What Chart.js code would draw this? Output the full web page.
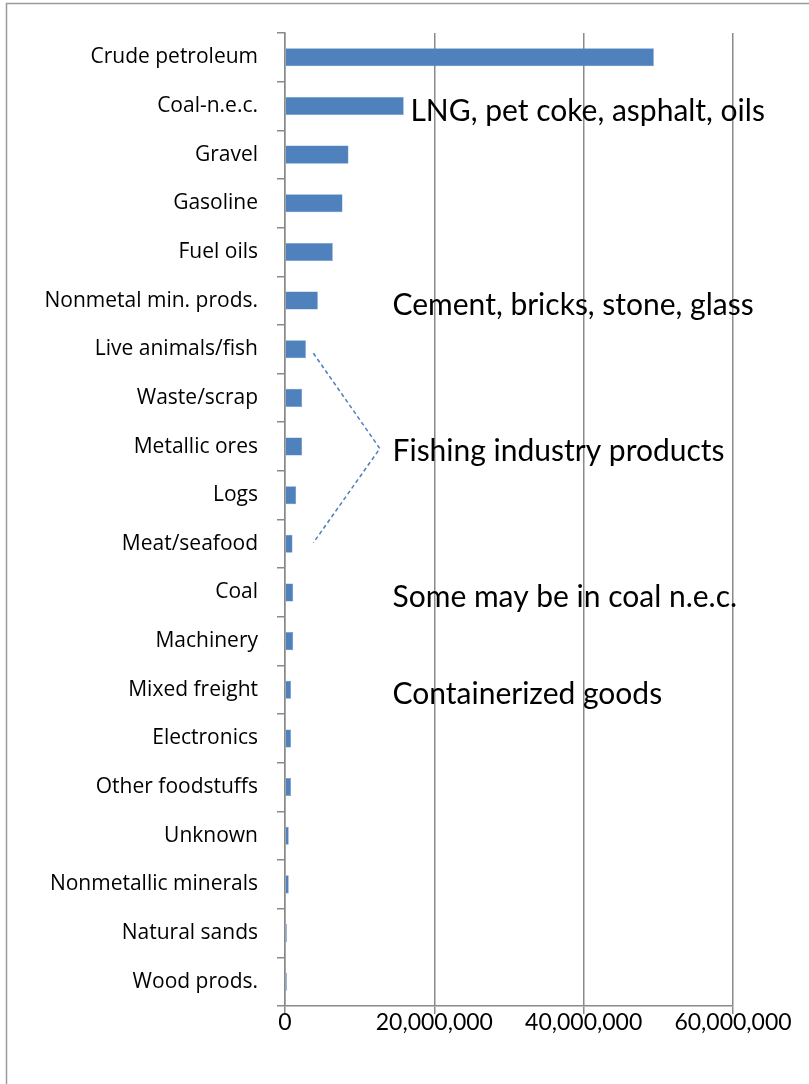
<!DOCTYPE html>
<html>
<head>
<meta charset="utf-8">
<script src="https://cdn.jsdelivr.net/npm/chart.js@4"></script>
<style>
  body { margin: 0; background: #fff; }
  #wrap { width: 809px; height: 1084px; }
</style>
</head>
<body>
<div id="wrap"><canvas id="freightChart" width="809" height="1084"></canvas></div>
<script>
// categories, top to bottom
const categories = [
    'Crude petroleum', 'Coal-n.e.c.', 'Gravel', 'Gasoline', 'Fuel oils',
    'Nonmetal min. prods.', 'Live animals/fish', 'Waste/scrap', 'Metallic ores', 'Logs',
    'Meat/seafood', 'Coal', 'Machinery', 'Mixed freight', 'Electronics',
    'Other foodstuffs', 'Unknown', 'Nonmetallic minerals', 'Natural sands', 'Wood prods.'
];

// tonnage per commodity
const tons = [
    49400000, 15900000, 8500000, 7700000, 6400000,
    4400000, 2800000, 2300000, 2300000, 1500000,
    1000000, 1100000, 1100000, 800000, 800000,
    800000, 500000, 500000, 250000, 250000
];

const xTicks = [0, 20000000, 40000000, 60000000];

// notes written next to the bars: text, row it sits on, value where it starts
const noteTexts = ['LNG, pet coke, asphalt, oils', 'Cement, bricks, stone, glass', 'Fishing industry products', 'Some may be in coal n.e.c.', 'Containerized goods'];
const noteRows = ['Coal-n.e.c.', 'Nonmetal min. prods.', 'Metallic ores', 'Coal', 'Mixed freight'];
const noteValues = [16800000, 14400000, 14400000, 14400000, 14400000];

// bracket for the fishing note: live animals -> apex -> meat/seafood
const bracketRows = ['Live animals/fish', 'Metallic ores', 'Meat/seafood'];
const bracketValues = [3800000, 12700000, 3800000];

const gridColor = '#8a8a8a';

// white page + frame + notes
const extras = {
    id: 'extras',
    beforeDraw(chart) {
        const ctx = chart.ctx;
        ctx.save();
        ctx.fillStyle = '#fff';
        ctx.fillRect(0, 0, chart.width, chart.height);
        ctx.strokeStyle = '#9a9a9a';
        ctx.lineWidth = 1.5;
        ctx.beginPath();
        ctx.moveTo(6.5, chart.height);
        ctx.lineTo(6.5, 3.5);
        ctx.lineTo(chart.width, 3.5);
        ctx.stroke();
        ctx.restore();
    },
    afterDraw(chart) {
        const ctx = chart.ctx;
        const x = chart.scales.x, y = chart.scales.y;
        ctx.save();

        // dashed bracket
        ctx.strokeStyle = '#4a7ebb';
        ctx.lineWidth = 1.5;
        ctx.setLineDash([4, 3]);
        const offs = [4, 2, -1];
        ctx.beginPath();
        bracketRows.forEach((r, i) => {
            const px = x.getPixelForValue(bracketValues[i]);
            const py = y.getPixelForValue(categories.indexOf(r)) + offs[i];
            if (i === 0) ctx.moveTo(px, py); else ctx.lineTo(px, py);
        });
        ctx.stroke();
        ctx.setLineDash([]);

        // note text
        ctx.fillStyle = '#000';
        ctx.font = '30px Lato';
        ctx.textBaseline = 'middle';
        ctx.textAlign = 'left';
        noteTexts.forEach((t, i) => {
            const px = x.getPixelForValue(noteValues[i]);
            const py = y.getPixelForValue(categories.indexOf(noteRows[i]));
            ctx.fillText(t, px, py + 5);
        });
        ctx.restore();
    }
};

new Chart(document.getElementById('freightChart'), {
    type: 'bar',
    data: {
        labels: categories,
        datasets: [{
            data: tons,
            backgroundColor: '#4f81bd',
            borderColor: '#5f8fc8',
            borderWidth: 0.5,
            barPercentage: 0.37,
            categoryPercentage: 1
        }]
    },
    options: {
        indexAxis: 'y',
        responsive: false,
        animation: false,
        layout: { padding: { top: 33, right: 76, bottom: 0, left: 0 } },
        plugins: {
            legend: { display: false },
            tooltip: { enabled: false }
        },
        scales: {
            x: {
                min: 0,
                max: 60000000,
                afterBuildTicks: (scale) => { scale.ticks = xTicks.map(v => ({ value: v })); },
                afterFit: (scale) => { scale.height = 78; },
                grid: { color: gridColor, lineWidth: 1.5, tickLength: 8 },
                border: { color: gridColor, width: 1.5 },
                ticks: {
                    color: '#000',
                    font: { family: 'Lato', size: 23 },
                    padding: -5,
                    callback: (v) => Number(v).toLocaleString('en-US')
                }
            },
            y: {
                afterFit: (scale) => { scale.width = 285; },
                grid: { drawOnChartArea: false, color: gridColor, lineWidth: 1.5, tickLength: 8 },
                border: { color: gridColor, width: 1.5 },
                ticks: {
                    color: '#000',
                    font: { family: 'Open Sans', size: 21 },
                    padding: 19
                }
            }
        }
    },
    plugins: [extras]
});
</script>
</body>
</html>
